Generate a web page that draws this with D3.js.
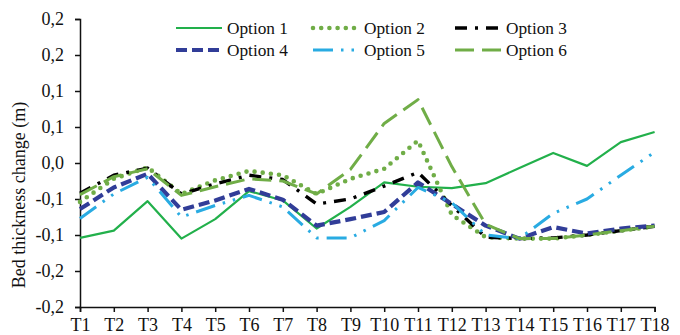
<!DOCTYPE html>
<html>
<head>
<meta charset="utf-8">
<script src="https://cdn.jsdelivr.net/npm/d3@7/dist/d3.min.js"></script>
<style>
  html, body { margin: 0; padding: 0; background: #fff; }
  svg { display: block; }
  svg text { fill: #111; }
</style>
</head>
<body>
<svg id="chart" width="680" height="335"></svg>
<script>
// Sampling points along the profile
const categories = ["T1","T2","T3","T4","T5","T6","T7","T8","T9","T10","T11","T12","T13","T14","T15","T16","T17","T18"];

// Bed thickness change (m) for each option
const option1 = [-0.104, -0.094, -0.053, -0.105, -0.078, -0.039, -0.052, -0.091, -0.061, -0.027, -0.033, -0.035, -0.028, -0.007, 0.014, -0.004, 0.029, 0.043];
const option2 = [-0.054, -0.022, -0.006, -0.043, -0.024, -0.011, -0.017, -0.043, -0.022, -0.008, 0.031, -0.072, -0.103, -0.105, -0.105, -0.100, -0.094, -0.088];
const option3 = [-0.042, -0.017, -0.007, -0.043, -0.029, -0.017, -0.023, -0.057, -0.050, -0.032, -0.013, -0.059, -0.103, -0.105, -0.104, -0.100, -0.094, -0.088];
const option4 = [-0.064, -0.034, -0.015, -0.065, -0.052, -0.036, -0.051, -0.087, -0.078, -0.068, -0.027, -0.057, -0.087, -0.105, -0.089, -0.098, -0.091, -0.087];
const option5 = [-0.077, -0.043, -0.020, -0.075, -0.059, -0.045, -0.061, -0.104, -0.104, -0.080, -0.034, -0.055, -0.100, -0.105, -0.070, -0.050, -0.017, 0.015];
const option6 = [-0.044, -0.019, -0.008, -0.045, -0.033, -0.022, -0.025, -0.043, -0.009, 0.055, 0.088, -0.005, -0.085, -0.105, -0.105, -0.100, -0.094, -0.088];

const seriesNames = ["Option 1","Option 2","Option 3","Option 4","Option 5","Option 6"];

// Y axis ticks and their (one-decimal) labels
const yTicks = [-0.2, -0.15, -0.1, -0.05, 0, 0.05, 0.1, 0.15, 0.2];
const yTickLabels = ["-0,2", "-0,2", "-0,1", "-0,1", "0,0", "0,1", "0,1", "0,2", "0,2"];

const yTitle = "Bed thickness change (m)";

const FONT = '"Liberation Serif", "Times New Roman", Times, serif';

// Line styling per series
const styles = [
  { color: "#22b04b", width: 2.2, dash: null, cap: "butt" },
  { color: "#70ad47", width: 4.6, dash: "0 8.2", cap: "round" },
  { color: "#000000", width: 3.4, dash: "12 8 3 8", cap: "butt" },
  { color: "#313d98", width: 4.2, dash: "11 5", cap: "butt" },
  { color: "#29abe2", width: 3.0, dash: "20 8 2.5 8 2.5 8", cap: "butt" },
  { color: "#70ad47", width: 3.0, dash: "19 8", cap: "butt" }
];

const seriesValues = [option1, option2, option3, option4, option5, option6];
const series = seriesNames.map((name, i) => ({ name, values: seriesValues[i], style: styles[i] }));

const svg = d3.select("#chart");
const margin = { left: 80, right: 25.4, top: 19, bottom: 28 };
const W = 680, H = 335;

const x = d3.scalePoint().domain(categories).range([margin.left, W - margin.right]);
const y = d3.scaleLinear().domain([-0.2, 0.2]).range([H - margin.bottom, margin.top]);

// Y axis
const yAxis = d3.axisLeft(y)
  .tickValues(yTicks)
  .tickSize(5)
  .tickPadding(11)
  .tickFormat((d, i) => yTickLabels[i]);
const gy = svg.append("g").attr("transform", `translate(${margin.left},0)`).call(yAxis)
  .attr("font-family", FONT).attr("font-size", 18);
gy.select(".domain").attr("stroke", "#111").attr("stroke-width", 1.5);
gy.selectAll(".tick line").attr("stroke", "#111").attr("stroke-width", 1.5);
gy.selectAll(".tick text").attr("fill", "#111");

// X axis
const xAxis = d3.axisBottom(x).tickSize(5).tickPadding(6);
const gx = svg.append("g").attr("transform", `translate(0,${y(-0.2)})`).call(xAxis)
  .attr("font-family", FONT).attr("font-size", 18);
gx.select(".domain").attr("stroke", "#111").attr("stroke-width", 1.5);
gx.selectAll(".tick line").attr("stroke", "#111").attr("stroke-width", 1.5);
gx.selectAll(".tick text").attr("fill", "#111");

// Y axis title, centred on the lower part of the value range
svg.append("text")
  .attr("transform", `translate(25,195) rotate(-90)`)
  .attr("text-anchor", "middle")
  .attr("font-family", FONT)
  .attr("font-size", 18)
  .text(yTitle);

// Series lines
const line = d3.line()
  .x((d, i) => x(categories[i]))
  .y(d => y(d));

svg.append("g").selectAll("path")
  .data(series)
  .join("path")
  .attr("d", d => line(d.values))
  .attr("fill", "none")
  .attr("stroke", d => d.style.color)
  .attr("stroke-width", d => d.style.width)
  .attr("stroke-dasharray", d => d.style.dash)
  .attr("stroke-linecap", d => d.style.cap)
  .attr("stroke-linejoin", "round");

// Legend: two rows of three
const legendCols = [176, 313, 455];
const legendRows = [28, 50];
const legend = svg.append("g").attr("font-family", FONT).attr("font-size", 17.3);
series.forEach((s, i) => {
  const cx = legendCols[i % 3];
  const cy = legendRows[Math.floor(i / 3)];
  legend.append("line")
    .attr("x1", cx).attr("x2", cx + 46)
    .attr("y1", cy).attr("y2", cy)
    .attr("stroke", s.style.color)
    .attr("stroke-width", s.style.width)
    .attr("stroke-dasharray", s.style.dash)
    .attr("stroke-linecap", s.style.cap);
  legend.append("text")
    .attr("x", cx + 51)
    .attr("y", cy)
    .attr("dy", "0.35em")
    .text(s.name);
});
</script>
</body>
</html>
